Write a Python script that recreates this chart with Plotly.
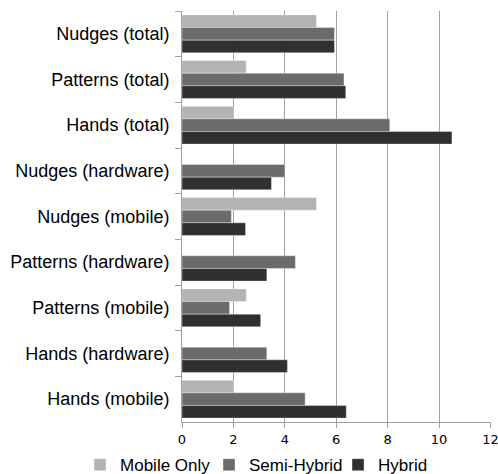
import plotly.graph_objects as go

categories = [
    "Nudges (total)", "Patterns (total)", "Hands (total)",
    "Nudges (hardware)", "Nudges (mobile)", "Patterns (hardware)",
    "Patterns (mobile)", "Hands (hardware)", "Hands (mobile)",
]
mobile_only = [5.23, 2.50, 2.00, None, 5.23, None, 2.50, None, 2.00]
semi_hybrid = [5.93, 6.30, 8.08, 4.00, 1.92, 4.41, 1.85, 3.30, 4.79]
hybrid = [5.93, 6.37, 10.50, 3.48, 2.47, 3.30, 3.06, 4.10, 6.39]

series = [
    ("Mobile Only", mobile_only, "#b3b3b3"),
    ("Semi-Hybrid", semi_hybrid, "#6b6b6b"),
    ("Hybrid", hybrid, "#303030"),
]

fig = go.Figure()
for name, vals, color in series:
    fig.add_trace(go.Bar(
        name=name, x=vals, y=categories, orientation="h",
        marker=dict(color=color, line=dict(color="rgba(255,255,255,0.35)", width=1)),
    ))

fig.update_layout(
    width=498, height=474,
    margin=dict(l=182, r=7, t=11, b=52, autoexpand=False),
    barmode="group", bargap=0.17, bargroupgap=0,
    plot_bgcolor="white", paper_bgcolor="white",
    font=dict(family="Liberation Sans, Arial, sans-serif", color="#000000"),
    showlegend=True,
    legend=dict(
        orientation="h", xref="paper", yref="paper",
        x=-0.33, xanchor="left", y=-0.105, yanchor="middle",
        font=dict(size=17), itemwidth=30, tracegroupgap=0,
        entrywidthmode="pixels", entrywidth=84,
    ),
    xaxis=dict(
        range=[0, 12.02], dtick=2, tick0=0,
        showgrid=True, gridcolor="#a0a0a0", gridwidth=1,
        showline=True, linecolor="#a0a0a0", linewidth=1,
        ticks="outside", ticklen=5, tickcolor="#a0a0a0",
        tickfont=dict(size=13, family="DejaVu Sans, sans-serif"),
        ticklabeloverflow="allow",
        zeroline=False,
    ),
    yaxis=dict(
        autorange="reversed", type="category",
        showline=True, linecolor="#a0a0a0", linewidth=1,
        ticks="outside", ticklen=6, tickcolor="#a0a0a0", tickson="boundaries",
        tickfont=dict(size=18), ticklabelstandoff=8,
        showgrid=False,
    ),
)

fig.write_html("out.html")
